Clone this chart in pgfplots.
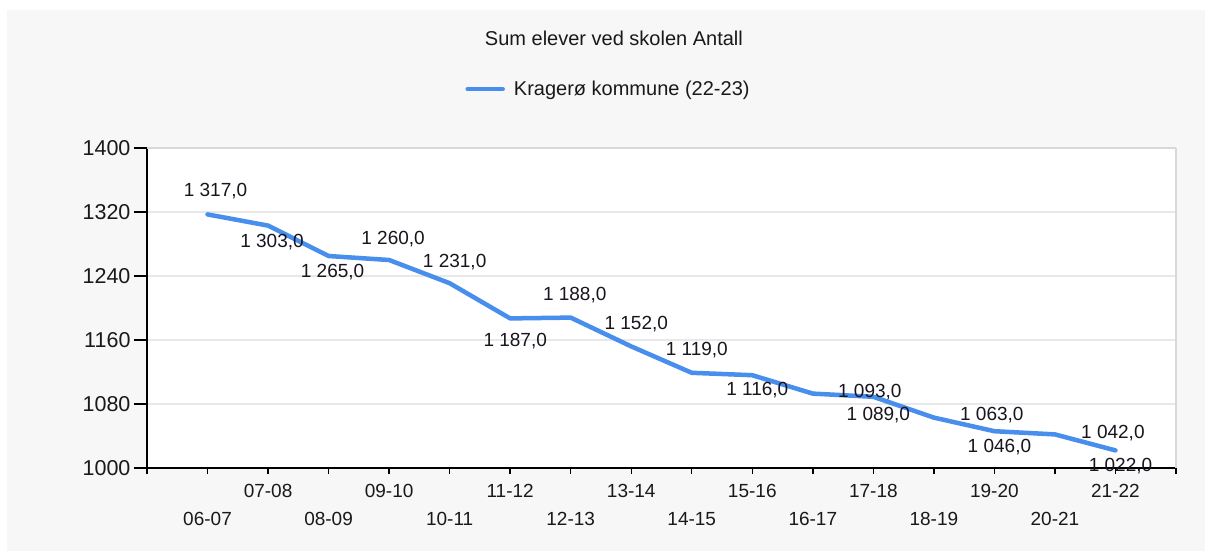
\documentclass[border=0pt]{standalone}
\usepackage{fontspec}
\setmainfont{Liberation Sans}
\usepackage{pgfplots}
\pgfplotsset{compat=1.18}
\usepackage{pgfplotstable}
\definecolor{bggray}{RGB}{247,247,247}
\definecolor{serie}{RGB}{72,142,236}
\definecolor{gridc}{RGB}{232,232,232}
\definecolor{rborder}{RGB}{216,216,216}
\definecolor{lab}{RGB}{25,20,30}

% series values
\pgfplotstableread{
x y
1 1317
2 1303
3 1265
4 1260
5 1231
6 1187
7 1188
8 1152
9 1119
10 1116
11 1093
12 1089
13 1063
14 1046
15 1042
16 1022
}\datatab

% data label positions (value, placed as in the reference)
\pgfplotstableread{
lx ly v
1.132 1345.75 1317
2.066 1283 1303
3.066 1245 1265
4.066 1286.25 1260
5.083 1257.25 1231
6.083 1158.25 1187
7.066 1216.75 1188
8.083 1179.5 1152
9.083 1147.75 1119
10.083 1097.25 1116
11.942 1095.5 1093
12.083 1066.5 1089
13.958 1066.75 1063
14.083 1026 1046
15.958 1043.25 1042
16.083 1002 1022
}\labtab

\begin{document}
\begin{tikzpicture}
\fill[white] (0pt,0pt) rectangle (1205pt,-551pt);
\fill[bggray] (7pt,-10pt) rectangle (1205pt,-551pt);
\begin{axis}[
  at={(147pt,-468pt)}, anchor=south west,
  scale only axis, width=1029pt, height=320pt,
  xmin=0, xmax=17, ymin=1000, ymax=1400,
  clip=false,
  axis x line*=bottom, axis y line*=left,
  axis line style={black, line width=1.6pt, -},
  axis background/.style={fill=white},
  tick align=outside,
  major tick length=13pt, minor tick length=6pt,
  every tick/.style={black, line width=1.4pt},
  ytick={1000,1080,1160,1240,1320,1400},
  yticklabels={1000,1080,1160,1240,1320,1400},
  yticklabel style={font=\fontsize{21.5}{24}\selectfont, text=black!90},
  ymajorgrids, major grid style={gridc, line width=1.3pt},
  xtick={2,4,...,16},
  xticklabels={07-08,09-10,11-12,13-14,15-16,17-18,19-20,21-22},
  major x tick style={draw=none},
  minor xtick={0,1,...,17},
  xticklabel style={font=\fontsize{19}{22}\selectfont, text=black!90},
  extra x ticks={1,3,...,15},
  extra x tick labels={06-07,08-09,10-11,12-13,14-15,16-17,18-19,20-21},
  extra x tick style={major x tick style={draw=none}, xticklabel style={yshift=-28pt}, grid=none},
  legend style={at={(rel axis cs:0.4485,1.184)}, anchor=center, draw=none, fill=none,
    font=\fontsize{20}{23}\selectfont, text=black!90},
  legend image code/.code={\draw[#1, line width=4.5pt] (0pt,0pt) -- (35pt,0pt); \path (42pt,0pt);},
]
\addplot[serie, line width=4.5pt, line join=round, line cap=round] table[x=x, y=y] {\datatab};
\addlegendentry{Kragerø kommune (22-23)}
\addplot[draw=none, mark=none, forget plot,
  nodes near coords={\pgfmathprintnumber[fixed, fixed zerofill, precision=1, use comma, 1000 sep={\ }, assume math mode=true]{\pgfplotspointmeta}},
  point meta=explicit,
  every node near coord/.append style={anchor=center, font=\fontsize{19}{22}\selectfont, text=lab},
] table[x=lx, y=ly, meta=v] {\labtab};
\draw[rborder, line width=2.6pt] (rel axis cs:1,0) -- (rel axis cs:1,1);
\draw[rborder, line width=1.6pt] (rel axis cs:0,1) -- (rel axis cs:1,1);
\node[anchor=base, font=\fontsize{20}{23}\selectfont, text=black!90] at (rel axis cs:0.4538,1.3188) {Sum elever ved skolen Antall};
\end{axis}
\end{tikzpicture}
\end{document}
